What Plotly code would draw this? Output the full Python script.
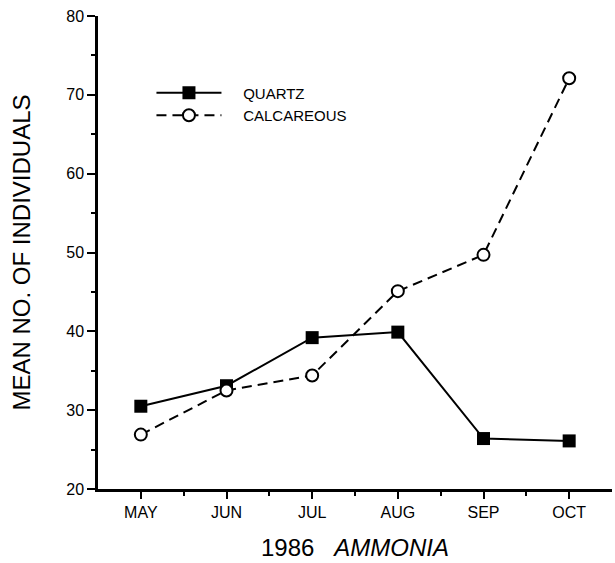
import plotly.graph_objects as go

months = ["MAY", "JUN", "JUL", "AUG", "SEP", "OCT"]
quartz = [30.5, 33.1, 39.2, 39.9, 26.4, 26.1]
calcareous = [26.9, 32.5, 34.4, 45.1, 49.7, 72.1]
y_ticks = [20, 30, 40, 50, 60, 70, 80]

FONT = "Liberation Sans, Arial, Helvetica, sans-serif"
PAD = "\u00a0\u00a0\u00a0\u00a0"

fig = go.Figure()
fig.add_trace(go.Scatter(
    x=list(range(len(months))), y=quartz, name=PAD + "QUARTZ", mode="lines+markers",
    line=dict(color="black", width=2),
    marker=dict(symbol="square", size=13, color="black"),
))
fig.add_trace(go.Scatter(
    x=list(range(len(months))), y=calcareous, name=PAD + "CALCAREOUS", mode="lines+markers",
    line=dict(color="black", width=2, dash="10px,6px"),
    marker=dict(symbol="circle", size=12, color="white", line=dict(color="black", width=2)),
))

fig.update_layout(
    width=615, height=563,
    margin=dict(l=98, r=3, t=16, b=74),
    paper_bgcolor="white", plot_bgcolor="white",
    font=dict(family=FONT, color="black"),
    showlegend=True,
    legend=dict(x=0.104, y=0.872, xanchor="left", yanchor="top",
                bgcolor="rgba(0,0,0,0)", font=dict(size=15, family=FONT),
                itemwidth=65, tracegroupgap=0),
    xaxis=dict(
        range=[-0.5, 5.5], tickmode="array", automargin=False,
        tickvals=list(range(len(months))), ticktext=months,
        showgrid=False, zeroline=False, showline=True, linecolor="black", linewidth=2.5,
        ticks="outside", ticklen=7, tickwidth=2, tickcolor="black",
        tickfont=dict(size=16),
        minor=dict(tickvals=[0.5, 1.5, 2.5, 3.5, 4.5], ticks="outside", ticklen=4, tickwidth=2, tickcolor="black"),
        title=dict(text="1986\u00a0\u00a0\u00a0<i>AMMONIA</i>", font=dict(size=24), standoff=20),
    ),
    yaxis=dict(
        range=[20, 80], tickmode="array", tickvals=y_ticks, automargin=False,
        showgrid=False, zeroline=False, showline=True, linecolor="black", linewidth=2.5,
        ticks="outside", ticklen=8, tickwidth=2, tickcolor="black",
        tickfont=dict(size=16),
        minor=dict(dtick=5, ticks="outside", ticklen=4, tickwidth=2, tickcolor="black"),
        title=dict(text="MEAN NO. OF INDIVIDUALS", font=dict(size=24), standoff=29),
    ),
)

fig.write_html("out.html", config={"displayModeBar": False},
               post_script="document.body.style.margin='0';")
